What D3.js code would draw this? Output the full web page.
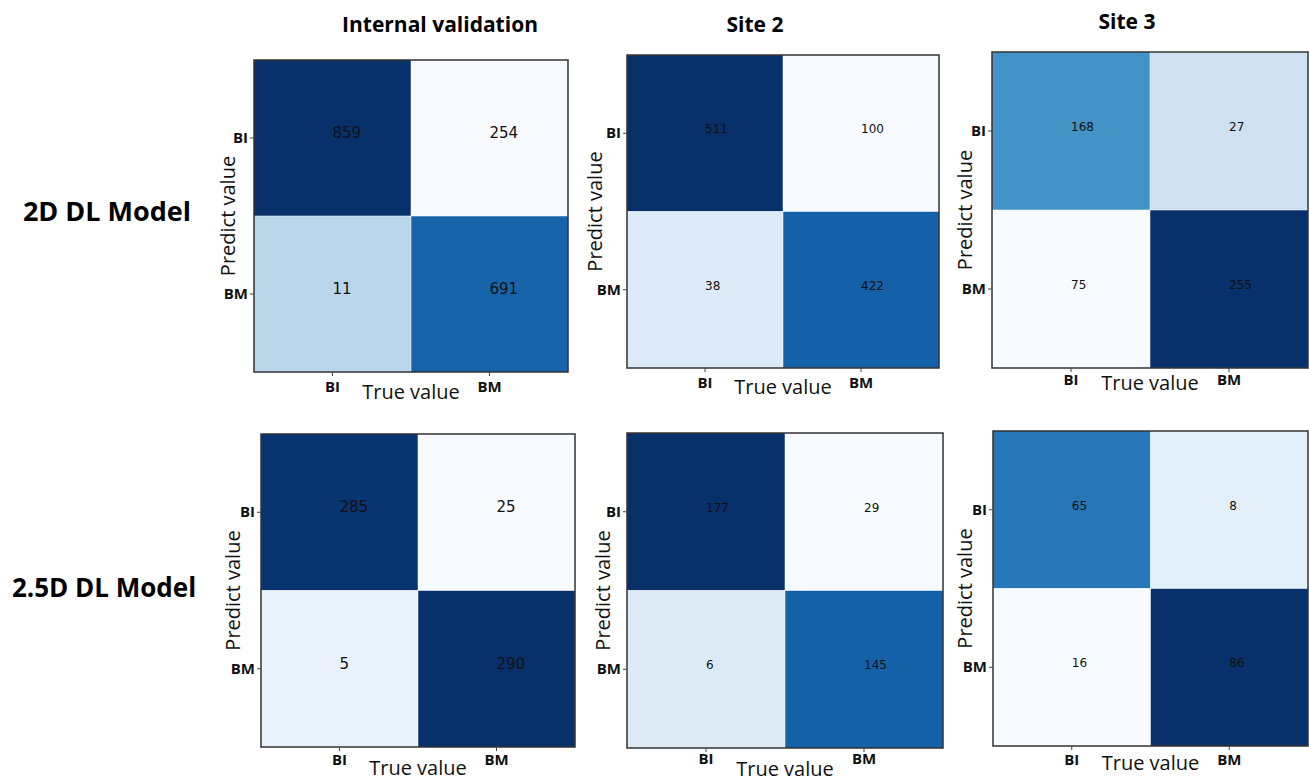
<!DOCTYPE html>
<html>
<head>
	<meta charset="utf-8">
	<title>Confusion matrices</title>
	<script src="https://d3js.org/d3.v7.min.js"></script>
	<style>
		body { margin: 0; background: #fff; }
	</style>
</head>
<body>
	<div class="chart"></div>

	<script type="text/javascript">

		// data
		var classes = ['BI', 'BM']
		var columnTitles = ['Internal validation', 'Site 2', 'Site 3']
		var rowTitles = ['2D DL Model', '2.5D DL Model']
		var xLabel = 'True value'
		var yLabel = 'Predict value'

		// rows = predicted, cols = true
		var internal2D = [[859, 254], [11, 691]]
		var site2_2D = [[511, 100], [38, 422]]
		var site3_2D = [[168, 27], [75, 255]]
		var internal25D = [[285, 25], [5, 290]]
		var site2_25D = [[177, 29], [6, 145]]
		var site3_25D = [[65, 8], [16, 86]]

		var matrices = [internal2D, site2_2D, site3_2D, internal25D, site2_25D, site3_25D]

		// layout of each panel (pixels)
		var panels = [
			{ x: 254, y: 60, w: 314, h: 312, font: 15, yl: 26, xl: 20, tl: 15 },
			{ x: 627, y: 55, w: 312, h: 313, font: 12, yl: 32, xl: 19, tl: 15 },
			{ x: 992, y: 52, w: 316, h: 316, font: 12, yl: 27, xl: 15, tl: 12 },
			{ x: 261, y: 434, w: 314, h: 313, font: 15, yl: 28, xl: 21, tl: 13 },
			{ x: 627, y: 433, w: 316, h: 315, font: 12, yl: 24, xl: 21, tl: 11 },
			{ x: 993, y: 431, w: 315, h: 315, font: 12, yl: 28, xl: 17, tl: 14 }
		]

		var width = 1309
		var height = 781

		var svg = d3
			.select('.chart')
			.append('svg')
			.attr('width', width)
			.attr('height', height)
			.style('background-color', '#fff')

		// matplotlib-style Blues (linear between the 9 brewer stops)
		var blues = d3.scaleLinear()
			.domain(d3.range(9).map((i) => i / 8))
			.range(d3.schemeBlues[9])
			.interpolate(d3.interpolateRgb)
			.clamp(true)

		// column titles
		var titleX = [440, 755, 1127]
		var titleY = [32, 32, 29]
		svg.selectAll('.col-title')
			.data(columnTitles)
			.enter()
			.append('text')
			.attr('x', (d, i) => titleX[i])
			.attr('y', (d, i) => titleY[i])
			.attr('text-anchor', 'middle')
			.style('font-family', '"Open Sans", sans-serif')
			.style('font-weight', 'bold')
			.style('font-size', '21px')
			.text((d) => d)

		// row titles
		var rowY = [221, 597]
		var rowX = [107, 104]
		var rowSize = [27, 26]
		svg.selectAll('.row-title')
			.data(rowTitles)
			.enter()
			.append('text')
			.attr('x', (d, i) => rowX[i])
			.attr('y', (d, i) => rowY[i])
			.attr('text-anchor', 'middle')
			.style('font-family', '"Open Sans", sans-serif')
			.style('font-weight', 'bold')
			.style('font-size', (d, i) => rowSize[i] + 'px')
			.text((d) => d)

		matrices.forEach(function (m, k) {
			var p = panels[k]
			var g = svg.append('g').attr('transform', `translate(${p.x}, ${p.y})`)

			var xScale = d3.scaleBand().domain(classes).range([0, p.w])
			var yScale = d3.scaleBand().domain(classes).range([0, p.h])

			var flat = d3.merge(m)
			var lo = d3.min(flat)
			var hi = d3.max(flat)

			var cells = []
			classes.forEach(function (r, i) {
				classes.forEach(function (c, j) {
					// the image colours follow the transposed matrix
					cells.push({ row: r, col: c, value: m[i][j], shade: (m[j][i] - lo) / (hi - lo) })
				})
			})

			g.selectAll('rect.cell')
				.data(cells)
				.enter()
				.append('rect')
				.attr('class', 'cell')
				.attr('x', (d) => xScale(d.col))
				.attr('y', (d) => yScale(d.row))
				.attr('width', xScale.bandwidth())
				.attr('height', yScale.bandwidth())
				.attr('fill', (d) => blues(d.shade))

			// thin light seams between cells
			g.append('line')
				.attr('x1', p.w / 2).attr('x2', p.w / 2)
				.attr('y1', 0).attr('y2', p.h)
				.style('stroke', 'rgba(255,255,255,0.5)')
				.style('stroke-width', 1)
			g.append('line')
				.attr('x1', 0).attr('x2', p.w)
				.attr('y1', p.h / 2).attr('y2', p.h / 2)
				.style('stroke', 'rgba(255,255,255,0.5)')
				.style('stroke-width', 1)

			// numbers, matplotlib default anchor (left, baseline)
			g.selectAll('text.val')
				.data(cells)
				.enter()
				.append('text')
				.attr('class', 'val')
				.attr('x', (d) => xScale(d.col) + xScale.bandwidth() / 2)
				.attr('y', (d) => yScale(d.row) + yScale.bandwidth() / 2)
				.attr('text-anchor', 'start')
				.style('font-family', '"DejaVu Sans", sans-serif')
				.style('font-size', p.font + 'px')
				.style('fill', '#111')
				.text((d) => d.value)

			// frame
			g.append('rect')
				.attr('width', p.w)
				.attr('height', p.h)
				.style('fill', 'none')
				.style('stroke', '#333')
				.style('stroke-width', 1.5)

			// axes
			var xAxis = d3.axisBottom(xScale).tickSize(4).tickPadding(6)
			var yAxis = d3.axisLeft(yScale).tickSize(4).tickPadding(2)

			var gx = g.append('g')
				.attr('transform', `translate(0, ${p.h})`)
				.call(xAxis)
			gx.selectAll('text').attr('y', p.tl).attr('dy', '0.35em')
			g.append('g').call(yAxis)

			g.selectAll('.domain').remove()
			g.selectAll('.tick line').style('stroke', '#444')
			g.selectAll('.tick text')
				.style('font-family', '"Open Sans", sans-serif')
				.style('font-weight', 'bold')
				.style('font-size', '15px')
				.style('fill', '#111')

			// axis labels
			g.append('text')
				.attr('x', p.w / 2)
				.attr('y', p.h + p.xl)
				.attr('dy', '0.35em')
				.attr('text-anchor', 'middle')
				.style('font-family', '"Open Sans", sans-serif')
				.style('font-size', '20px')
				.style('fill', '#111')
				.text(xLabel)

			g.append('text')
				.attr('transform', `translate(${-p.yl}, ${p.h / 2}) rotate(-90)`)
				.attr('dy', '0.35em')
				.attr('text-anchor', 'middle')
				.style('font-family', '"Open Sans", sans-serif')
				.style('font-size', '20px')
				.style('fill', '#111')
				.text(yLabel)
		})

	</script>
</body>
</html>
